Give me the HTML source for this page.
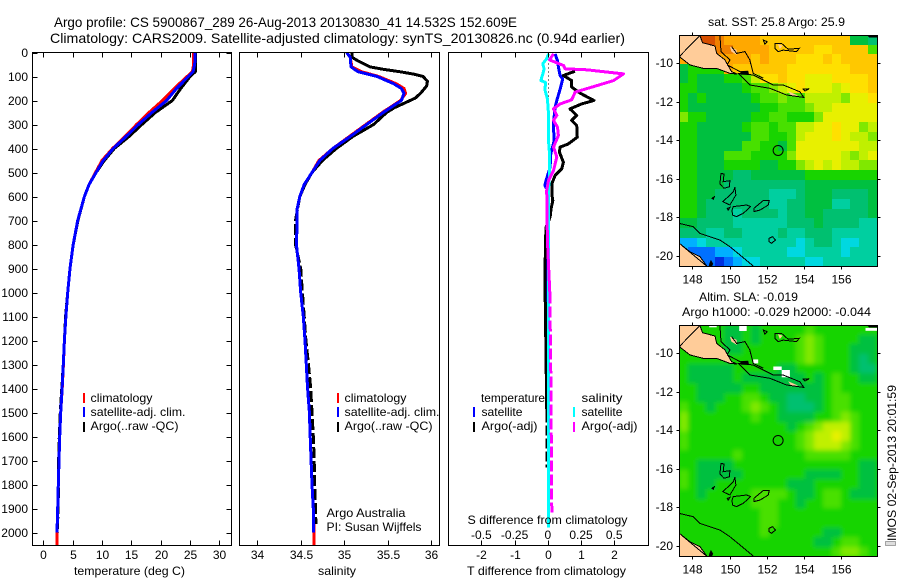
<!DOCTYPE html>
<html>
<head>
<meta charset="utf-8">
<title>Argo profile 5900867_289</title>
<style>
html,body{margin:0;padding:0;background:#fff;}
svg{display:block;}
text{font-family:"Liberation Sans",sans-serif;font-size:12px;fill:#000;}
.big{font-size:14px;}
</style>
</head>
<body>
<svg id="chart" xmlns="http://www.w3.org/2000/svg" width="900" height="580" viewBox="0 0 900 580">
  <defs>
    <clipPath id="clip-sst"><rect x="679.5" y="35.5" width="198" height="231"/></clipPath>
    <clipPath id="clip-sla"><rect x="679.5" y="325.5" width="198" height="231"/></clipPath>
    <clipPath id="clip-p1"><rect x="32.5" y="52.5" width="199" height="493"/></clipPath>
    <clipPath id="clip-p2"><rect x="239.5" y="52.5" width="200" height="493"/></clipPath>
    <clipPath id="clip-p3"><rect x="448.5" y="52.5" width="200" height="493"/></clipPath>
    <filter id="soften" x="-5%" y="-5%" width="110%" height="110%"><feGaussianBlur stdDeviation="2.4"/></filter>
  </defs>

  <text class="big" x="54" y="27" textLength="463" lengthAdjust="spacingAndGlyphs">Argo profile: CS 5900867_289 26-Aug-2013 20130830_41 14.532S 152.609E</text>
  <text class="big" x="50" y="43" textLength="575" lengthAdjust="spacingAndGlyphs">Climatology: CARS2009. Satellite-adjusted climatology: synTS_20130826.nc (0.94d earlier)</text>

  <g id="maps"></g>
  <g id="curves"></g>
  <g id="axes"></g>

  <!-- temperature legend -->
  <rect x="83" y="393" width="2" height="10" fill="#ff0000"/>
  <rect x="83" y="407" width="2" height="10" fill="#0000ff"/>
  <rect x="83" y="422" width="2" height="10" fill="#000"/>
  <text x="90.5" y="402" textLength="62" lengthAdjust="spacingAndGlyphs">climatology</text>
  <text x="90.5" y="416" textLength="95" lengthAdjust="spacingAndGlyphs">satellite-adj. clim.</text>
  <text x="90.5" y="430" textLength="88" lengthAdjust="spacingAndGlyphs">Argo(..raw -QC)</text>

  <!-- salinity legend -->
  <rect x="337" y="393" width="2" height="10" fill="#ff0000"/>
  <rect x="337" y="407" width="2" height="10" fill="#0000ff"/>
  <rect x="337" y="422" width="2" height="10" fill="#000"/>
  <text x="344.5" y="402" textLength="62" lengthAdjust="spacingAndGlyphs">climatology</text>
  <text x="344.5" y="416" textLength="95" lengthAdjust="spacingAndGlyphs">satellite-adj. clim.</text>
  <text x="344.5" y="430" textLength="88" lengthAdjust="spacingAndGlyphs">Argo(..raw -QC)</text>
  <text x="326.5" y="517" textLength="79" lengthAdjust="spacingAndGlyphs">Argo Australia</text>
  <text x="326.5" y="531" textLength="95" lengthAdjust="spacingAndGlyphs">PI: Susan Wijffels</text>

  <!-- difference legend -->
  <text x="481" y="402" textLength="64" lengthAdjust="spacingAndGlyphs">temperature</text>
  <text x="581.5" y="402" textLength="41" lengthAdjust="spacingAndGlyphs">salinity</text>
  <rect x="473" y="407" width="2" height="10" fill="#0000ff"/>
  <rect x="473" y="422" width="2" height="10" fill="#000"/>
  <rect x="573" y="407" width="2" height="10" fill="#00ffff"/>
  <rect x="573" y="422" width="2" height="10" fill="#ff00ff"/>
  <text x="481.5" y="416" textLength="41" lengthAdjust="spacingAndGlyphs">satellite</text>
  <text x="481.5" y="430" textLength="56" lengthAdjust="spacingAndGlyphs">Argo(-adj)</text>
  <text x="581.5" y="416" textLength="41" lengthAdjust="spacingAndGlyphs">satellite</text>
  <text x="581.5" y="430" textLength="56" lengthAdjust="spacingAndGlyphs">Argo(-adj)</text>

  <!-- axis titles -->
  <text x="74" y="575" textLength="111" lengthAdjust="spacingAndGlyphs">temperature (deg C)</text>
  <text x="318" y="575" textLength="38" lengthAdjust="spacingAndGlyphs">salinity</text>
  <text x="467" y="575" textLength="159" lengthAdjust="spacingAndGlyphs">T difference from climatology</text>
  <text x="467.5" y="524" textLength="160" lengthAdjust="spacingAndGlyphs">S difference from climatology</text>

  <!-- map titles -->
  <text x="708" y="26" textLength="137" lengthAdjust="spacingAndGlyphs">sat. SST: 25.8 Argo: 25.9</text>
  <text x="699" y="301" textLength="99" lengthAdjust="spacingAndGlyphs">Altim. SLA: -0.019</text>
  <text x="682" y="316" textLength="189" lengthAdjust="spacingAndGlyphs">Argo h1000: -0.029 h2000: -0.044</text>

  <!-- time stamp -->
  <rect x="885.5" y="541.5" width="10" height="4" fill="#ddd" stroke="#555" stroke-width="1" stroke-dasharray="1 1"/>
  <text transform="translate(896,541) rotate(-90)" x="0" y="0" textLength="156" lengthAdjust="spacingAndGlyphs">IMOS 02-Sep-2013 20:01:59</text>
</svg>

<script>
// ---- profile data ----
const depthTicks = [0,100,200,300,400,500,600,700,800,900,1000,1100,1200,1300,1400,1500,1600,1700,1800,1900,2000];
const tempTicks = [0,5,10,15,20,25,30];
const salTicks = [34,34.5,35,35.5,36];
const salTickLabels = ['34','34.5','35','35.5','36'];
const tDiffTicks = [-2,-1,0,1,2];
const sDiffTicks = [-0.5,-0.25,0,0.25,0.5];
const sDiffTickLabels = ['-0.5','-0.25','0','0.25','0.5'];

const tempDepths = [0,20,50,80,100,150,200,250,300,350,400,450,500,550,600,700,800,900,1000,1100,1200,1300,1400,1500,1600,1700,1800,1900,2000];
const tempClim = [25.6,25.6,25.6,25.4,24.5,22.3,20.3,18.0,15.9,13.9,11.8,10.0,8.9,7.8,7.0,5.86,5.1,4.55,4.15,3.85,3.6,3.42,3.22,2.96,2.79,2.67,2.56,2.45,2.33];
const tempSat = [25.84,25.84,25.8,25.5,24.7,22.7,21.0,18.5,16.2,14.1,11.9,10.2,9.0,7.8,7.0,5.86,5.1,4.55,4.15,3.85,3.6,3.4,3.2,2.96,2.79,2.67,2.56,2.45,2.33];
const tempArgo = [25.9,25.9,25.9,25.9,25.0,23.4,22.0,19.1,16.8,14.6,12.1,10.4,9.0,7.8,7.0,5.9,5.1,4.55,4.15,3.8,3.6,3.4,3.15,2.9,2.72,2.6,2.6,2.5,2.4];

const salDepths = [0,20,60,80,100,130,150,170,200,250,300,350,400,450,500,550,600,650,700,800,900,1000,1100,1200,1300,1400,1500,1600,1700,1800,1900,2000];
const salClim = [35.03,35.07,35.09,35.2,35.4,35.6,35.69,35.71,35.65,35.44,35.25,35.06,34.87,34.71,34.63,34.54,34.49,34.46,34.46,34.45,34.48,34.5,34.53,34.55,34.565,34.58,34.6,34.61,34.62,34.63,34.645,34.655];
const salSat = [35.03,35.07,35.08,35.16,35.38,35.57,35.66,35.69,35.66,35.45,35.26,35.07,34.87,34.72,34.63,34.54,34.49,34.46,34.46,34.45,34.48,34.5,34.53,34.55,34.565,34.58,34.6,34.61,34.62,34.63,34.645,34.65];
const salArgoDepths = [0,20,35,60,70,80,90,100,120,140,170,190,210,230,250,300,350,400,450,500,550,600,700,800,900,1000,1100,1200,1300,1400,1500,1600,1700,1800,1900,1965];
const salArgo = [35.09,35.09,35.16,35.3,35.45,35.64,35.8,35.91,35.96,35.95,35.88,35.82,35.7,35.58,35.49,35.34,35.1,34.91,34.75,34.63,34.55,34.49,34.44,34.44,34.5,34.52,34.54,34.56,34.59,34.615,34.63,34.645,34.655,34.66,34.67,34.675];

const tSatDepths = [6,33,61,96,110,144,200,228,297,367,422,478,533,554,568,800,1000,1200,1400];
const tSatDiff = [0.22,0.29,0.32,0.37,0.45,0.39,0.27,0.22,0.17,0.19,0.09,0.07,-0.05,-0.09,-0.03,-0.03,-0.04,-0.04,-0.03];
const tArgoDepths = [78,96,117,144,169,200,214,235,262,283,304,353,381,394,415,457,485,512,547,589,617,651,686,728,783,900,1000,1100,1200,1300,1400,1500,1600,1730];
const tArgoDiff = [0.82,0.47,0.72,0.72,0.97,1.39,1.02,0.67,0.87,0.72,0.87,0.89,0.62,0.37,0.35,0.47,0.42,0.22,0.12,0.12,0.15,0.10,0.07,-0.05,-0.07,-0.08,-0.08,-0.07,-0.06,-0.05,-0.04,-0.03,-0.03,-0.03];
const sSatDepths = [6,26,47,68,89,117,124,158,193,256,367,422,506,575,800,1000,1300,1600,1980];
const sSatDiff = [0.005,-0.008,-0.038,-0.028,-0.038,-0.053,-0.018,-0.02,-0.003,0.005,0.005,0.013,0.013,0.005,0.005,0.005,0.005,0.005,0.005];
const sArgoDepths = [6,31,54,68,72,89,117,138,165,197,214,235,262,283,311,346,394,436,492,533,575,783,1000,1300,1500,1917];
const sArgoDiff = [0.043,0.013,0.118,0.13,0.294,0.57,0.495,0.37,0.206,0.18,0.093,0.043,0.068,0.043,0.073,0.08,0.043,0.068,0.043,0.005,-0.008,-0.003,0.015,0.022,0.025,0.03];

// ---- map data (colour levels, 22 columns x 24 rows, north to south) ----
const lonTicks = [148,150,152,154,156];
const latTicks = [-10,-12,-14,-16,-18,-20];
const sstLevels = [
[16,16,16,16,15,14,14,14,14,13,13,13,13,13,13,13,13,13,13,6,6,5],
[15,15,15,15,15,15,14,14,14,14,13,13,13,13,13,12,12,13,13,13,13,8],
[14,14,14,14,14,14,14,14,13,14,13,13,13,12,12,12,13,12,13,13,13,13],
[6,7,7,7,7,14,13,13,13,13,13,13,12,12,12,12,12,12,12,13,13,13],
[6,7,6,6,6,7,7,8,10,12,12,13,12,12,11,11,11,12,12,12,12,13],
[7,7,6,6,6,6,6,7,8,8,9,10,11,12,11,11,11,10,11,12,12,13],
[7,6,7,6,6,6,6,6,7,8,8,9,8,8,10,10,10,10,9,11,11,12],
[7,6,6,6,6,6,6,6,6,7,7,8,8,8,9,10,10,11,11,11,11,11],
[9,7,7,6,6,6,6,6,7,7,8,8,7,7,7,9,11,11,11,11,11,11],
[7,7,6,6,6,6,6,7,8,8,7,8,8,10,10,11,11,12,11,11,9,10],
[7,7,6,6,6,6,6,6,8,8,7,7,8,10,11,11,11,12,11,10,10,9],
[7,7,6,6,6,6,6,8,8,7,7,6,8,11,11,11,11,11,11,11,10,10],
[7,7,6,6,6,8,8,8,7,7,7,7,9,11,11,11,11,11,10,9,10,11],
[7,7,6,6,6,7,7,7,7,6,6,7,7,9,10,11,10,11,10,10,9,9],
[7,7,6,6,6,6,5,5,6,6,6,6,6,6,7,7,7,7,7,7,7,7],
[7,7,6,6,6,5,5,5,5,5,5,5,5,5,6,6,6,6,6,6,6,6],
[7,7,6,6,5,5,5,5,5,5,4,4,4,5,6,6,6,5,5,5,5,6],
[7,7,6,5,5,5,5,5,5,5,4,4,5,5,6,6,6,4,4,5,5,6],
[7,7,6,5,5,5,4,5,5,5,5,4,5,5,6,6,5,5,5,5,5,6],
[6,6,5,5,5,5,4,4,4,4,4,4,5,5,5,6,5,5,5,5,4,4],
[5,5,5,4,4,5,5,4,4,4,4,5,4,4,5,5,5,4,4,4,4,4],
[2,2,3,4,4,4,4,4,4,4,4,4,4,3,4,5,5,4,3,3,4,4],
[2,1,1,1,2,2,3,4,4,4,4,4,3,3,4,4,4,4,3,4,4,4],
[1,1,1,1,0,1,2,3,3,4,4,4,4,4,3,3,4,4,4,4,4,4]
];
const slaLevels = [
[7,7,7,7,7,6,6,7,6,7,7,7,7,7,8,7,7,7,7,7,7,7],
[7,7,7,7,7,6,6,7,6,7,7,7,7,8,9,8,7,7,7,7,6,6],
[7,7,7,7,7,6,6,7,7,7,7,7,7,8,9,8,7,7,7,6,6,6],
[7,7,7,7,7,7,7,7,7,7,7,7,7,8,9,8,7,7,7,6,5,6],
[7,6,6,6,6,6,7,7,7,7,7,6,6,7,7,7,7,7,7,6,5,5],
[7,6,6,6,6,6,7,6,6,6,6,6,6,6,7,6,7,8,7,7,6,6],
[7,7,6,6,6,6,6,7,7,6,6,6,6,6,6,6,7,8,7,7,7,7],
[7,7,6,6,6,7,7,8,8,7,6,6,5,5,6,6,7,8,8,7,7,7],
[8,7,7,6,7,7,7,8,9,8,7,6,5,5,5,6,7,8,8,7,7,7],
[9,7,7,7,7,7,7,7,8,7,7,6,6,6,6,7,7,8,9,8,7,7],
[9,7,7,7,7,7,7,7,7,7,7,7,6,7,8,9,10,10,10,8,7,7],
[8,7,7,7,7,7,7,7,7,7,7,7,7,8,9,10,10,11,10,8,7,7],
[8,7,7,7,7,7,7,7,7,7,7,7,7,8,9,10,10,10,9,8,7,7],
[7,7,7,7,7,7,8,7,7,7,7,7,7,7,8,8,8,8,8,7,7,7],
[7,7,6,6,6,6,7,7,7,7,7,7,7,7,7,7,7,7,7,7,6,6],
[8,7,6,6,6,6,6,7,7,7,7,7,7,7,6,6,6,6,7,7,6,6],
[8,7,6,6,7,7,7,7,7,7,7,7,6,6,6,7,7,7,7,7,6,6],
[7,7,6,7,7,7,7,7,8,8,8,8,7,6,6,7,8,8,7,6,6,6],
[7,7,7,7,7,7,7,7,8,8,8,7,7,6,7,7,8,8,7,7,7,7],
[7,7,7,7,7,7,7,7,7,8,8,7,7,7,7,7,7,7,7,7,7,7],
[7,7,7,7,7,7,7,7,7,8,8,7,7,7,7,7,7,7,7,7,7,7],
[7,7,7,7,7,7,7,7,7,8,7,7,7,7,7,7,6,6,7,7,7,7],
[7,7,7,7,7,7,7,7,7,7,7,7,7,7,7,6,6,7,8,8,7,7],
[7,7,7,7,7,7,7,7,7,7,7,7,7,7,7,7,7,8,9,9,8,7]
];
const levelColours = ['#0030e0','#0070ff','#00b0ff','#00d8e0','#00cfa0','#00c070','#00c040','#18d400','#48e000','#80e800','#c0f000','#e8f000','#ffe000','#ffc800','#ffa800','#f08000','#d85000'];

// coastlines as lon,lat pairs
const pngLand = [[147.3,-8.57],[148.41,-8.57],[148.55,-8.95],[149.22,-9.12],[149.31,-9.5],[149.75,-9.84],[150.11,-10.45],[150.41,-10.57],[150.02,-10.54],[149.31,-10.28],[148.59,-10.28],[147.87,-10.1],[147.3,-9.67]];
const ausLand = [[147.3,-19.34],[147.52,-19.52],[147.87,-19.78],[148.41,-20.03],[148.68,-20.38],[148.8,-20.55],[147.3,-20.55]];
const smallLand = [
 [[150.02,-9.15],[150.38,-9.32],[150.4,-9.58],[150.1,-9.41]],
 [[153.15,-11.46],[153.69,-11.69],[153.33,-11.72]],
 [[152.6,-9.02],[152.85,-9.1],[152.7,-9.28]]
];
const coastOpen = [
 [[149.48,-8.57],[149.54,-9.41],[150.02,-9.84],[149.88,-10.1],[150.74,-10.54]],
 [[150.11,-9.15],[150.38,-9.5],[150.83,-9.41],[151.09,-9.84],[151.27,-10.54],[151.81,-10.79]],
 [[147.3,-18.31],[148.05,-18.48],[148.41,-18.83],[149.48,-19.17],[150.02,-19.52],[150.56,-19.95],[151.27,-20.52]]
];
const coastClosed = [
 [[150.47,-10.54],[151.09,-11.14],[152.17,-11.31],[153.06,-11.66],[153.99,-11.78],[153.78,-11.49],[152.88,-11.14],[152.35,-11.14],[151.81,-10.88],[151.27,-10.62],[150.56,-10.54]],
 [[152.44,-8.98],[152.79,-8.98],[153.15,-9.29],[153.74,-9.24],[153.6,-9.41],[152.88,-9.33],[152.62,-9.41],[152.44,-9.24]],
 [[153.96,-11.36],[154.28,-11.33],[154.05,-11.45]],
 [[151.81,-8.81],[152.02,-8.89],[151.9,-9.02]],
 [[149.54,-15.72],[149.7,-15.75],[149.66,-16.15],[150.02,-16.1],[149.99,-16.41],[149.7,-16.49],[149.48,-16.27]],
 [[150.29,-16.44],[150.34,-16.84],[150.02,-17.36],[149.63,-17.18],[149.93,-16.93],[150.2,-16.67]],
 [[150.2,-17.44],[150.92,-17.36],[151.13,-17.44],[150.74,-17.79],[150.38,-17.96],[150.16,-17.88],[150.13,-17.62]],
 [[151.31,-17.53],[151.81,-17.13],[152.13,-17.13],[152.08,-17.36],[151.63,-17.62],[151.31,-17.7]],
 [[152.13,-19.08],[152.31,-19.0],[152.47,-19.17],[152.26,-19.34],[152.13,-19.26]],
 [[149.06,-17.01],[149.18,-16.93],[149.13,-17.06]],
 [[149.88,-17.53],[150.02,-17.48],[149.93,-17.62]],
 [[147.3,-9.67],[147.87,-10.1],[148.59,-10.28],[149.31,-10.28],[150.02,-10.54],[150.41,-10.57],[150.11,-10.45],[149.75,-9.84],[149.31,-9.5],[149.22,-9.12],[148.55,-8.95],[148.41,-8.57]],
 [[147.3,-19.34],[147.87,-19.78],[148.41,-20.03],[148.8,-20.55]]
];
const blackBlobs = [
 [[150.6,-10.42],[151.0,-10.4],[151.05,-10.62],[150.6,-10.6]],
 [[149.0,-20.2],[149.12,-20.4],[149.05,-20.55],[148.88,-20.55],[148.92,-20.38]],
 [[157.4,-8.57],[157.93,-8.57],[157.93,-8.68],[157.5,-8.68]]
];
const slaWhite = [
 [[150.52,-8.58],[150.92,-8.58],[150.92,-8.86],[150.52,-8.86]],
 [[148.91,-8.58],[149.31,-8.58],[149.31,-8.67],[148.91,-8.67]],
 [[152.8,-10.88],[153.24,-10.88],[153.24,-11.26],[152.8,-11.26]],
 [[152.35,-10.7],[152.8,-10.7],[152.8,-10.88],[152.35,-10.88]],
 [[151.27,-10.33],[151.54,-10.33],[151.54,-10.54],[151.27,-10.54]],
 [[157.3,-8.7],[157.93,-8.7],[157.93,-8.85],[157.3,-8.85]]
];
const argoLon = 152.609;
const argoLat = -14.532;

// ---- axis functions ----
const NS = 'http://www.w3.org/2000/svg';
const yD = d => 52.5 + d * 0.24;
const xT = v => 43.3 + v * 5.87;
const xS = v => 257.3 + (v - 34) * 86.8;
const xDT = v => 547.8 + v * 33.2;
const xDS = v => 547.8 + v * 132.8;
const xLon = v => 692.3 + (v - 148) * 18.62;
const ySst = v => 63 + (-10 - v) * 19.3;
const ySla = v => 353 + (-10 - v) * 19.3;

function make(tag, attrs, parent) {
  const el = document.createElementNS(NS, tag);
  for (const k in attrs) el.setAttribute(k, attrs[k]);
  parent.appendChild(el);
  return el;
}
const axes = document.getElementById('axes');
const curves = document.getElementById('curves');
const maps = document.getElementById('maps');

function pts(xs, ys, fx) {
  return xs.map((v, i) => fx(v).toFixed(1) + ',' + yD(ys[i]).toFixed(1)).join(' ');
}
function curve(xs, ys, fx, colour, width, clip, name) {
  const el = make('polyline', {points: pts(xs, ys, fx), fill: 'none', stroke: colour, 'stroke-width': width, 'stroke-linejoin': 'round', 'shape-rendering': 'crispEdges', 'clip-path': 'url(#' + clip + ')'}, curves);
  
  
  return el;
}
function curveSplit(xs, ys, fx, colour, width, clip, name, split, dash) {
  const up = [], upD = [], lo = [], loD = [];
  xs.forEach((v, i) => {
    if (ys[i] <= split) { up.push(v); upD.push(ys[i]); }
    if (ys[i] >= split) { lo.push(v); loD.push(ys[i]); }
  });
  curve(up, upD, fx, colour, width, clip, name);
  const d = curve(lo, loD, fx, colour, width, clip, name);
  d.setAttribute('stroke-dasharray', dash);
}

// ---- panel frames and ticks ----
const panelBoxes = [[32.5,231.5],[239.5,439.5],[448.5,648.5]];
panelBoxes.forEach(b => {
  const r = make('rect', {x: b[0], y: 52.5, width: b[1] - b[0], height: 493, fill: 'none', stroke: '#000', 'stroke-width': 1, 'shape-rendering': 'crispEdges'}, axes);
  
  
});
function line(x1, y1, x2, y2, parent) {
  const l = make('line', {x1: x1, y1: y1, x2: x2, y2: y2, stroke: '#000', 'stroke-width': 1, 'shape-rendering': 'crispEdges'}, parent);
  
  
  return l;
}
function label(x, y, str, anchor) {
  const t = make('text', {x: x, y: y, 'text-anchor': anchor}, axes);
  t.textContent = str;
  
  
  return t;
}
depthTicks.forEach(d => {
  const y = Math.round(yD(d)) + 0.5;
  line(32.5, y, 37.5, y, axes);
  line(226.5, y, 231.5, y, axes);
  label(28, y + 3.5, String(d), 'end');
});
tempTicks.forEach(v => {
  const x = Math.round(xT(v)) + 0.5;
  line(x, 52.5, x, 57.5, axes);
  line(x, 540.5, x, 545.5, axes);
  label(x, 559, String(v), 'middle');
});
salTicks.forEach((v, i) => {
  const x = Math.round(xS(v)) + 0.5;
  line(x, 52.5, x, 57.5, axes);
  line(x, 540.5, x, 545.5, axes);
  label(x, 559, salTickLabels[i], 'middle');
});
tDiffTicks.forEach(v => {
  const x = Math.round(xDT(v)) + 0.5;
  line(x, 52.5, x, 57.5, axes);
  line(x, 540.5, x, 545.5, axes);
  label(x, 559, String(v), 'middle');
});
sDiffTicks.forEach((v, i) => {
  label(xDS(v), 539, sDiffTickLabels[i], 'middle');
});

// ---- curves ----
curve(tempClim, tempDepths, xT, '#ff0000', 3, 'clip-p1', 'temperature-climatology-line');
curve([tempClim[tempClim.length - 1], tempClim[tempClim.length - 1]], [2000, 2054], xT, '#ff0000', 3, 'clip-p1', 'temperature-climatology-line');
curveSplit(tempArgo, tempDepths, xT, '#000000', 3, 'clip-p1', 'temperature-argo-line', 1000, '12 3');
curve(tempSat, tempDepths, xT, '#0000ff', 3, 'clip-p1', 'temperature-satellite-line');

curve(salClim, salDepths, xS, '#ff0000', 3, 'clip-p2', 'salinity-climatology-line');
curve([salClim[salClim.length - 1], salClim[salClim.length - 1]], [2000, 2054], xS, '#ff0000', 3, 'clip-p2', 'salinity-climatology-line');
curveSplit(salArgo, salArgoDepths, xS, '#000000', 3, 'clip-p2', 'salinity-argo-line', 600, '11 3');
curve(salSat, salDepths, xS, '#0000ff', 3, 'clip-p2', 'salinity-satellite-line');

const zeroLine = make('line', {x1: 548.5, y1: yD(30), x2: 548.5, y2: yD(1000), stroke: '#000', 'stroke-width': 1, 'stroke-dasharray': '1 3', 'shape-rendering': 'crispEdges'}, curves);


curve(tSatDiff, tSatDepths, xDT, '#0000ff', 3, 'clip-p3', 't-difference-satellite-line');
curveSplit(tArgoDiff, tArgoDepths, xDT, '#000000', 3, 'clip-p3', 't-difference-argo-line', 1500, '10 3');
curve(sSatDiff, sSatDepths, xDS, '#00ffff', 3, 'clip-p3', 's-difference-satellite-line');
curveSplit(sArgoDiff, sArgoDepths, xDS, '#ff00ff', 3, 'clip-p3', 's-difference-argo-line', 1000, '11 3');

// ---- maps ----
const lonStart = 147.3, lonStep = 0.4832, latStart = -8.55, latStep = 0.5;
function polyPts(p, fy) {
  return p.map(q => xLon(q[0]).toFixed(1) + ',' + fy(q[1]).toFixed(1)).join(' ');
}
function drawMap(levels, fy, clip, top, prefix, whites, soft) {
  const g = make('g', {'clip-path': 'url(#' + clip + ')'}, maps);
  
  
  const base = make('rect', {x: 679, y: top, width: 199, height: 232, fill: levelColours[7]}, g);
  
  
  const cells = make('g', {}, g);
  
  
  if (soft) cells.setAttribute('filter', 'url(#soften)');
  levels.forEach((row, r) => {
    row.forEach((v, c) => {
      const x0 = Math.round(xLon(lonStart + c * lonStep));
      const x1 = Math.round(xLon(lonStart + (c + 1) * lonStep));
      const y0 = Math.round(fy(latStart - r * latStep));
      const y1 = Math.round(fy(latStart - (r + 1) * latStep));
      const cell = make('rect', {x: x0, y: y0, width: x1 - x0, height: y1 - y0, fill: levelColours[v], 'shape-rendering': 'crispEdges'}, cells);
      
      
    });
  });
  whites.forEach(p => {
    const w = make('polygon', {points: polyPts(p, fy), fill: '#ffffff'}, g);
    
    
  });
  [pngLand, ausLand].concat(smallLand).forEach(p => {
    const land = make('polygon', {points: polyPts(p, fy), fill: '#ffcc99'}, g);
    
    
  });
  coastClosed.forEach(p => {
    const o = make('polygon', {points: polyPts(p, fy), fill: 'none', stroke: '#000', 'stroke-width': 1, 'shape-rendering': 'crispEdges'}, g);
    
    
  });
  coastOpen.forEach(p => {
    const o = make('polyline', {points: polyPts(p, fy), fill: 'none', stroke: '#000', 'stroke-width': 1, 'shape-rendering': 'crispEdges'}, g);
    
    
  });
  blackBlobs.forEach(p => {
    const o = make('polygon', {points: polyPts(p, fy), fill: '#000'}, g);
    
    
  });
  const marker = make('circle', {cx: xLon(argoLon), cy: fy(argoLat), r: 5, fill: 'none', stroke: '#000', 'stroke-width': 1}, g);
  
  

  const frame = make('rect', {x: 679.5, y: top, width: 198, height: 231, fill: 'none', stroke: '#000', 'stroke-width': 1, 'shape-rendering': 'crispEdges'}, axes);
  
  
  lonTicks.forEach(v => {
    const x = Math.round(xLon(v)) + 0.5;
    line(x, top - 3, x, top, axes);
    line(x, top + 231, x, top + 234, axes);
    label(x, top + 248, String(v), 'middle');
  });
  latTicks.forEach(v => {
    const y = Math.round(fy(v)) + 0.5;
    line(676.5, y, 679.5, y, axes);
    line(877.5, y, 880.5, y, axes);
    label(673, y + 3.5, String(v), 'end');
  });
}
drawMap(sstLevels, ySst, 'clip-sst', 35.5, 'sst', [], false);
drawMap(slaLevels, ySla, 'clip-sla', 325.5, 'sla', slaWhite, true);
</script>
</body>
</html>
